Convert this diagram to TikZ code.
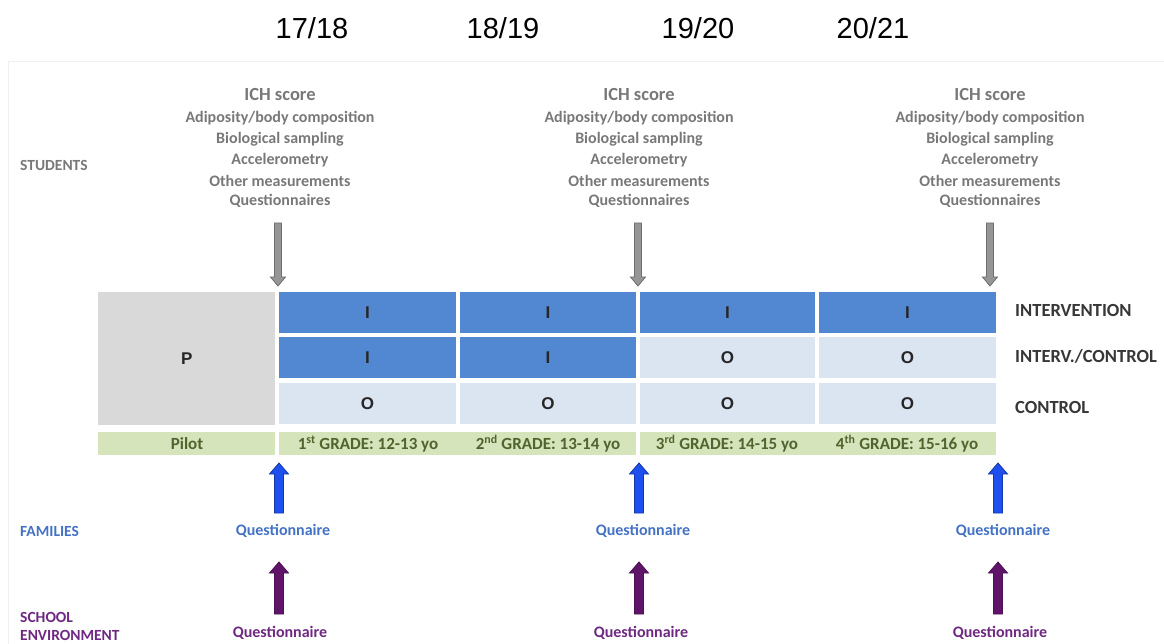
\documentclass[tikz,border=0pt]{standalone}
\usepackage{fontspec}
\setmainfont{Carlito}
\newfontfamily\helv{Liberation Sans}
\definecolor{txtgray}{RGB}{120,120,120}
\definecolor{lbldark}{RGB}{55,55,55}
\definecolor{cellblue}{RGB}{82,135,210}
\definecolor{celllight}{RGB}{219,228,241}
\definecolor{cellgray}{RGB}{217,217,217}
\definecolor{cellgreen}{RGB}{214,228,188}
\definecolor{greentxt}{RGB}{80,100,45}
\definecolor{famblue}{RGB}{68,114,196}
\definecolor{arrblue}{RGB}{30,80,240}
\definecolor{schpurple}{RGB}{110,40,130}
\definecolor{arrpurple}{RGB}{95,20,105}
\newcommand\myblockarrow[7]{%
  \filldraw[#1] (#2-#6,#3) -- (#2-#6,#4) -- (#2-#7,#4) -- (#2,#5) -- (#2+#7,#4) -- (#2+#6,#4) -- (#2+#6,#3) -- cycle;}
\begin{document}
\begin{tikzpicture}[x=1pt,y=-1pt,
  year/.style={font=\helv\fontsize{29}{32}\selectfont, inner sep=0},
  ichhead/.style={font=\fontsize{18.5}{20}\selectfont\bfseries, text=txtgray, inner sep=0},
  meas/.style={font=\fontsize{16}{18}\selectfont\bfseries, text=txtgray, inner sep=0},
  side/.style={font=\fontsize{15.5}{17}\selectfont\bfseries, inner sep=0, anchor=west},
  grp/.style={font=\fontsize{18.5}{20}\selectfont\bfseries, text=lbldark, inner sep=0, anchor=west},
  cell/.style={anchor=north west, inner sep=0, outer sep=0, minimum height=41, font=\helv\fontsize{17}{19}\selectfont\bfseries, text=black!85},
  blue cell/.style={cell, fill=cellblue},
  light cell/.style={cell, fill=celllight},
  green cell/.style={anchor=north west, inner sep=0, outer sep=0, fill=cellgreen, minimum height=23},
  gtxt/.style={font=\fontsize{17}{19}\selectfont\bfseries, text=greentxt, inner sep=0},
  fq/.style={font=\fontsize{16}{18}\selectfont\bfseries, text=famblue, inner sep=0},
  sq/.style={font=\fontsize{16}{18}\selectfont\bfseries, text=schpurple, inner sep=0},
  grayarrow/.style={fill={rgb,255:red,150;green,150;blue,150}, draw={rgb,255:red,110;green,110;blue,110}, line width=0.8pt},
  bluearrow/.style={fill=arrblue, draw=arrblue!70!black, line width=0.8pt},
  purplearrow/.style={fill=arrpurple, draw=arrpurple!80!black, line width=0.8pt}
]
\useasboundingbox (0,0) rectangle (1164,644);
% faint frame
\draw[gray!12, line width=1pt] (8,644) -- (8,62) -- (1164,62);

% years
\node[year] (y1) at (312,28) {17/18};
\node[year] (y2) at (503,28) {18/19};
\node[year] (y3) at (698,28) {19/20};
\node[year] (y4) at (873,28) {20/21};

% row labels
\node[side, text=txtgray] (stud) at (20,165) {STUDENTS};
\node[side, text=famblue] (fam) at (20,531) {FAMILIES};
\node[side, text=schpurple, align=left, font=\fontsize{15.5}{18}\selectfont\bfseries] (sch) at (20,626) {SCHOOL\\ENVIRONMENT};

% measurement blocks
\foreach \n/\x in {1/280,2/639,3/990}{
  \node[ichhead] (ich\n) at (\x,95) {ICH score};
  \node[meas] (adi\n) at (\x,118) {Adiposity/body composition};
  \node[meas] (bio\n) at (\x,139) {Biological sampling};
  \node[meas] (acc\n) at (\x,160) {Accelerometry};
  \node[meas] (oth\n) at (\x,181) {Other measurements};
  \node[meas] (que\n) at (\x,201) {Questionnaires};
}

% gray arrows
\myblockarrow{grayarrow}{278}{223}{277}{286}{3.5}{7.5}
\myblockarrow{grayarrow}{638}{223}{277}{286}{3.5}{7.5}
\myblockarrow{grayarrow}{990}{223}{277}{286}{3.5}{7.5}

% pilot block
\node[anchor=north west, inner sep=0, fill=cellgray, minimum width=177, minimum height=133,
      font=\helv\fontsize{17}{19}\selectfont\bfseries, text=black!85] (pilot) at (98,292) {P};

% table rows
\node[blue cell, minimum width=177] (r11) at (279,292) {I};
\node[blue cell, minimum width=176] (r12) at (460,292) {I};
\node[blue cell, minimum width=175] (r13) at (640,292) {I};
\node[blue cell, minimum width=177] (r14) at (819,292) {I};

\node[blue cell, minimum width=177] (r21) at (279,337) {I};
\node[blue cell, minimum width=176] (r22) at (460,337) {I};
\node[light cell, minimum width=175] (r23) at (640,337) {O};
\node[light cell, minimum width=177] (r24) at (819,337) {O};

\node[light cell, minimum width=177] (r31) at (279,383) {O};
\node[light cell, minimum width=176] (r32) at (460,383) {O};
\node[light cell, minimum width=175] (r33) at (640,383) {O};
\node[light cell, minimum width=177] (r34) at (819,383) {O};

% group labels
\node[grp] (gint) at (1015,310) {INTERVENTION};
\node[grp] (gic) at (1015,356) {INTERV./CONTROL};
\node[grp] (gctl) at (1015,407) {CONTROL};

% green grade row
\node[green cell, minimum width=177] (gp) at (98,432) {};
\node[green cell, minimum width=357] (g12) at (279,432) {};
\node[green cell, minimum width=356] (g34) at (640,432) {};
\node[gtxt] (t0) at (187,444) {Pilot};
\node[gtxt] (t1) at (368,444) {1\textsuperscript{st} GRADE: 12-13 yo};
\node[gtxt] (t2) at (548,444) {2\textsuperscript{nd} GRADE: 13-14 yo};
\node[gtxt] (t3) at (727,444) {3\textsuperscript{rd} GRADE: 14-15 yo};
\node[gtxt] (t4) at (907,444) {4\textsuperscript{th} GRADE: 15-16 yo};

% families
\node[fq] (fq1) at (283,531) {Questionnaire};
\node[fq] (fq2) at (643,531) {Questionnaire};
\node[fq] (fq3) at (1003,531) {Questionnaire};
\myblockarrow{bluearrow}{279}{513}{474}{463}{4.5}{9.5}
\myblockarrow{bluearrow}{639}{513}{474}{463}{4.5}{9.5}
\myblockarrow{bluearrow}{998}{513}{474}{463}{4.5}{9.5}

% school environment
\node[sq] (sq1) at (280,633) {Questionnaire};
\node[sq] (sq2) at (641,633) {Questionnaire};
\node[sq] (sq3) at (1000,633) {Questionnaire};
\myblockarrow{purplearrow}{279}{614}{573}{562}{4.5}{9.5}
\myblockarrow{purplearrow}{639}{614}{573}{562}{4.5}{9.5}
\myblockarrow{purplearrow}{998}{614}{573}{562}{4.5}{9.5}
\end{tikzpicture}
\end{document}
